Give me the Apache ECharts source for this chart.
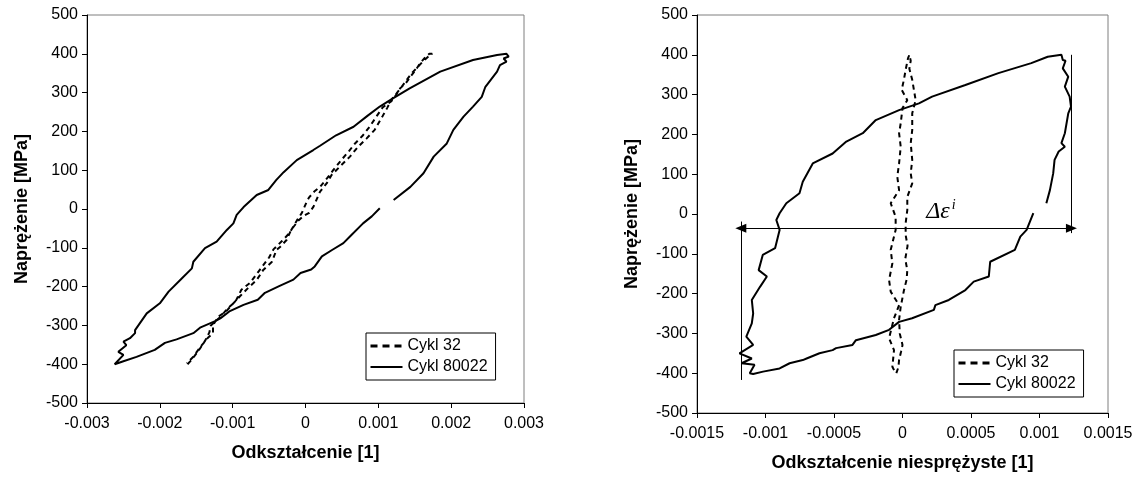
<!DOCTYPE html>
<html><head><meta charset="utf-8">
<script src="https://cdn.jsdelivr.net/npm/echarts@6/dist/echarts.min.js"></script>
<style>html,body{margin:0;padding:0;background:#fff}#c{width:1137px;height:479px}</style>
</head><body><div id="c"></div>
<script>
const seriesNames = ['Cykl 32', 'Cykl 80022'];
const leftXTicks = ['-0.003', '-0.002', '-0.001', '0', '0.001', '0.002', '0.003'];
const rightXTicks = ['-0.0015', '-0.001', '-0.0005', '0', '0.0005', '0.001', '0.0015'];
const yTicks = ['-500', '-400', '-300', '-200', '-100', '0', '100', '200', '300', '400', '500'];
const leftXTitle = 'Odkształcenie [1]';
const rightXTitle = 'Odkształcenie niesprężyste [1]';
const yTitle = 'Naprężenie [MPa]';

// Left chart: total strain vs stress
const left32 = [
  [-0.00162,-400],[-0.00158,-392],[-0.00152,-378],[-0.00145,-360],[-0.00138,-340],[-0.00132,-318],[-0.00130,-300],
  [-0.00124,-290],[-0.00115,-275],[-0.00108,-258],[-0.00096,-238],[-0.00088,-208],[-0.00076,-190],[-0.00064,-160],
  [-0.00050,-125],[-0.00044,-104],[-0.00032,-82],[-0.00022,-62],[-0.00012,-30],[-0.00005,-10],[0.00002,20],
  [0.00005,30],[0.00012,45],[0.00020,57],[0.00030,80],[0.00038,100],[0.00050,128],[0.00060,150],[0.00068,169],
  [0.00078,188],[0.00088,212],[0.00098,240],[0.00106,262],[0.00118,278],[0.00123,290],[0.00130,311],[0.00138,325],
  [0.00144,341],[0.00152,360],[0.00157,375],[0.00164,390],[0.00170,400],
  [0.00174,400],[0.00168,392],[0.00160,378],[0.00152,362],[0.00145,348],[0.00138,330],[0.00132,315],[0.00125,298],
  [0.00118,282],[0.00112,260],[0.00106,240],[0.00095,204],[0.00084,182],[0.00072,160],[0.00061,135],[0.00047,109],
  [0.00036,88],[0.00029,66],[0.00020,45],[0.00011,6],[0.00005,-10],[-0.00003,-18],[-0.00010,-30],[-0.00020,-55],
  [-0.00026,-80],[-0.00035,-98],[-0.00040,-106],[-0.00046,-136],[-0.00058,-157],[-0.00067,-183],[-0.00079,-204],
  [-0.00090,-225],[-0.00101,-247],[-0.00108,-262],[-0.00120,-278],[-0.00127,-300],[-0.00127,-320],[-0.00134,-332],
  [-0.00145,-357],[-0.00154,-381],[-0.00163,-398]
];
const left80022 = [
  [0.00102,2],[0.00091,-19],[0.00079,-37],[0.00061,-71],[0.00052,-88],[0.00037,-105],[0.000225,-122],[0.000127,-148],
  [0.000078,-156],[-0.000068,-165],[-0.000166,-182],[-0.000362,-199],[-0.000557,-216],[-0.000655,-234],[-0.000851,-247],
  [-0.001046,-264],[-0.00117,-282],[-0.00124,-289],[-0.00144,-305],[-0.00154,-320],[-0.00177,-336],[-0.00193,-345],
  [-0.00207,-363],[-0.00232,-381],[-0.00251,-393],[-0.00262,-400],
  [-0.00264,-396],[-0.00250,-376],[-0.00257,-368],[-0.00246,-351],[-0.00250,-342],[-0.00241,-333],[-0.00234,-320],
  [-0.00234,-312],[-0.00218,-269],[-0.00200,-243],[-0.00188,-213],[-0.00172,-183],[-0.00156,-153],[-0.00154,-136],
  [-0.00138,-101],[-0.00122,-84],[-0.00108,-54],[-0.00099,-37],[-0.000945,-15],[-0.00085,5],[-0.00067,36],
  [-0.00051,49],[-0.00040,75],[-0.00030,95],[-0.00012,126],[0.000107,152],[0.00020,163],[0.00042,190],[0.00066,212],
  [0.00085,240],[0.00102,264],[0.00120,285],[0.00143,311],[0.00185,354],[0.00230,384],[0.00263,397],[0.00276,400],
  [0.00279,393],[0.00272,388],[0.00276,380],[0.00267,371],[0.00263,354],[0.00247,315],[0.00242,289],[0.00230,264],
  [0.00217,238],[0.00203,204],[0.00194,169],[0.00176,135],[0.00162,92],[0.00144,57],[0.00121,23]
];

// Right chart: inelastic strain vs stress
const right32 = [
  [-0.000045,-400],[-0.00003,-385],[-0.000025,-367],[-0.00001,-345],[0.0,-329],[-0.00002,-300],[-0.000025,-266],
  [-0.000013,-233],[0.000011,-191],[0.00003,-165],[0.000035,-141],[0.00002,-113],[0.000037,-80],[0.000023,-53],
  [0.000023,-23],[0.000035,10],[0.000035,43],[0.000071,77],[0.00006,102],[0.000071,136],[0.00006,178],[0.000071,211],
  [0.000071,253],[0.000096,286],[0.000071,337],[0.00005,365],[0.00006,385],[0.00005,400],
  [0.00006,400],[0.00004,391],[0.000023,362],[0.00001,337],[-0.000006,312],[0.000035,286],[0.0,266],[-0.000013,228],
  [-0.000025,203],[-0.000013,169],[-0.000025,127],[-0.000038,94],[-0.000025,60],[-0.000086,27],[-0.00005,-7],
  [-0.00005,-40],[-0.000086,-90],[-0.000074,-124],[-0.000098,-166],[-0.000086,-195],[-0.000025,-229],[-0.000062,-262],
  [-0.000098,-312],[-0.000062,-342],[-0.000074,-384],[-0.00005,-400]
];
const right80022 = [
  [0.000955,2],[0.000906,-40],[0.00086,-57],[0.00082,-90],[0.00064,-120],[0.00063,-157],[0.00052,-170],[0.000459,-191],
  [0.000338,-216],[0.00024,-229],[0.000229,-241],[0.00007,-262],[-0.000025,-271],[-0.000098,-291],[-0.000195,-304],
  [-0.00034,-317],[-0.000365,-329],[-0.000485,-337],[-0.00051,-342],[-0.000606,-350],[-0.0007,-363],[-0.000728,-367],
  [-0.000824,-375],[-0.000897,-388],[-0.001018,-396],[-0.00109,-402],
  [-0.001115,-400],[-0.00108,-379],[-0.001175,-375],[-0.0011,-363],[-0.00119,-350],[-0.00109,-329],[-0.00114,-308],
  [-0.0011,-275],[-0.00109,-250],[-0.0011,-216],[-0.00104,-183],[-0.00099,-157],[-0.00105,-141],[-0.00102,-103],
  [-0.00093,-86],[-0.000897,-40],[-0.000921,-15],[-0.000897,2],[-0.000848,27],[-0.000752,52],[-0.000728,81],
  [-0.000655,127],[-0.00051,152],[-0.00041,182],[-0.00029,203],[-0.000195,236],[-0.000025,261],[0.00012,278],
  [0.000216,295],[0.000459,324],[0.0007,354],[0.00094,379],[0.00106,395],[0.00116,400],
  [0.00117,387],[0.00119,385],[0.00117,366],[0.00121,345],[0.001185,320],[0.00122,295],[0.00123,270],[0.00121,253],
  [0.001185,203],[0.00116,178],[0.001185,169],[0.00114,157],[0.00111,136],[0.0011,102],[0.001076,60],[0.00105,27]
];

// Annotation: inelastic strain range
const deltaArrowY = -36;
const deltaLeftX = -0.00118;
const deltaRightX = 0.001233;
const deltaLeftSpan = [-19, -417];
const deltaRightSpan = [400, -48];
const deltaLabelAt = [0.00028, 6];

const FONT = '"Liberation Sans", Arial, sans-serif';
const chart = echarts.init(document.getElementById('c'), null, {renderer: 'canvas'});

function xAxisCfg(grid, min, max, interval, ticks, title) {
  return {
    type: 'value', gridIndex: grid, min: min, max: max, interval: interval,
    name: title, nameLocation: 'middle', nameGap: 41,
    nameTextStyle: {fontFamily: FONT, fontSize: 18, fontWeight: 'bold', color: '#000'},
    axisLine: {onZero: false, lineStyle: {color: '#000', width: 1}},
    axisTick: {inside: false, length: 5, lineStyle: {color: '#000'}},
    axisLabel: {interval: 0, margin: 13, fontFamily: FONT, fontSize: 16, color: '#000',
      formatter: (v, i) => ticks[i]},
    splitLine: {show: false}
  };
}
function yAxisCfg(grid) {
  return {
    type: 'value', gridIndex: grid, min: -500, max: 500, interval: 100,
    name: yTitle, nameLocation: 'middle', nameGap: 56, nameRotate: 90,
    nameTextStyle: {fontFamily: FONT, fontSize: 18, fontWeight: 'bold', color: '#000'},
    axisLine: {onZero: false, lineStyle: {color: '#000', width: 1}},
    axisTick: {inside: false, length: 5, lineStyle: {color: '#000'}},
    axisLabel: {interval: 0, margin: 9, fontFamily: FONT, fontSize: 16, color: '#000',
      formatter: (v, i) => yTicks[i]},
    splitLine: {show: false}
  };
}
const hiddenSymbol = {color: 'rgba(0,0,0,0)', borderColor: 'rgba(0,0,0,0)', borderWidth: 0, opacity: 0};
function legendCfg(left, top) {
  return {
    orient: 'vertical', left: left, top: top,
    data: [
      {name: seriesNames[0], itemStyle: hiddenSymbol, lineStyle: {color: '#000', width: 3, type: [7, 5], opacity: 1}},
      {name: seriesNames[1], itemStyle: hiddenSymbol, lineStyle: {color: '#000', width: 2, type: 'solid', opacity: 1}}
    ],
    padding: [5, 8, 5, 3], itemGap: 5, itemWidth: 32, itemHeight: 14,
    borderColor: '#000', borderWidth: 1, borderRadius: 0, backgroundColor: '#fff',
    textStyle: {fontFamily: FONT, fontSize: 16, color: '#000'}
  };
}
const dashed = {color: '#000', width: 2, type: [5, 4]};
const solid = {color: '#000', width: 2, type: 'solid'};

chart.setOption({
  animation: false,
  backgroundColor: '#fff',
  grid: [
    {left: 87, top: 15, width: 437, height: 388, show: true, borderColor: '#7f7f7f', borderWidth: 1, backgroundColor: 'transparent'},
    {left: 697, top: 15, width: 411, height: 398, show: true, borderColor: '#7f7f7f', borderWidth: 1, backgroundColor: 'transparent'}
  ],
  xAxis: [
    xAxisCfg(0, -0.003, 0.003, 0.001, leftXTicks, leftXTitle),
    xAxisCfg(1, -0.0015, 0.0015, 0.0005, rightXTicks, rightXTitle)
  ],
  yAxis: [yAxisCfg(0), yAxisCfg(1)],
  legend: [legendCfg(366, 333), legendCfg(954, 350)],
  series: [
    {name: seriesNames[0], type: 'line', xAxisIndex: 0, yAxisIndex: 0, data: left32,
      symbol: 'none', lineStyle: dashed, itemStyle: {color: '#000'}},
    {name: seriesNames[1], type: 'line', xAxisIndex: 0, yAxisIndex: 0, data: left80022,
      symbol: 'none', lineStyle: solid, itemStyle: {color: '#000'}},
    {name: seriesNames[0], type: 'line', xAxisIndex: 1, yAxisIndex: 1, data: right32,
      symbol: 'none', lineStyle: dashed, itemStyle: {color: '#000'}},
    {name: seriesNames[1], type: 'line', xAxisIndex: 1, yAxisIndex: 1, data: right80022,
      symbol: 'none', lineStyle: solid, itemStyle: {color: '#000'},
      markLine: {
        silent: true, animation: false,
        symbol: ['triangle', 'triangle'], symbolSize: [9, 11],
        lineStyle: {color: '#000', width: 1, type: 'solid'},
        label: {show: false},
        emphasis: {disabled: true},
        data: [
          [{coord: [deltaLeftX, deltaArrowY]}, {coord: [deltaRightX, deltaArrowY]}],
          [{coord: [deltaLeftX, deltaLeftSpan[0]], symbol: 'none'}, {coord: [deltaLeftX, deltaLeftSpan[1]], symbol: 'none'}],
          [{coord: [deltaRightX, deltaRightSpan[0]], symbol: 'none'}, {coord: [deltaRightX, deltaRightSpan[1]], symbol: 'none'}]
        ]
      },
      markPoint: {
        silent: true, animation: false,
        symbol: 'rect', symbolSize: 1, itemStyle: {color: 'rgba(0,0,0,0)'},
        label: {
          show: true, position: 'inside', formatter: '{a|Δε}{b|i}',
          rich: {
            a: {fontFamily: '"Liberation Serif", "Times New Roman", serif', fontStyle: 'italic', fontSize: 24, color: '#000', lineHeight: 26},
            b: {fontFamily: '"Liberation Serif", "Times New Roman", serif', fontStyle: 'italic', fontSize: 14, color: '#000', verticalAlign: 'top', padding: [0, 0, 12, 2]}
          }
        },
        data: [{coord: deltaLabelAt}]
      }
    }
  ]
});
</script>
</body></html>
